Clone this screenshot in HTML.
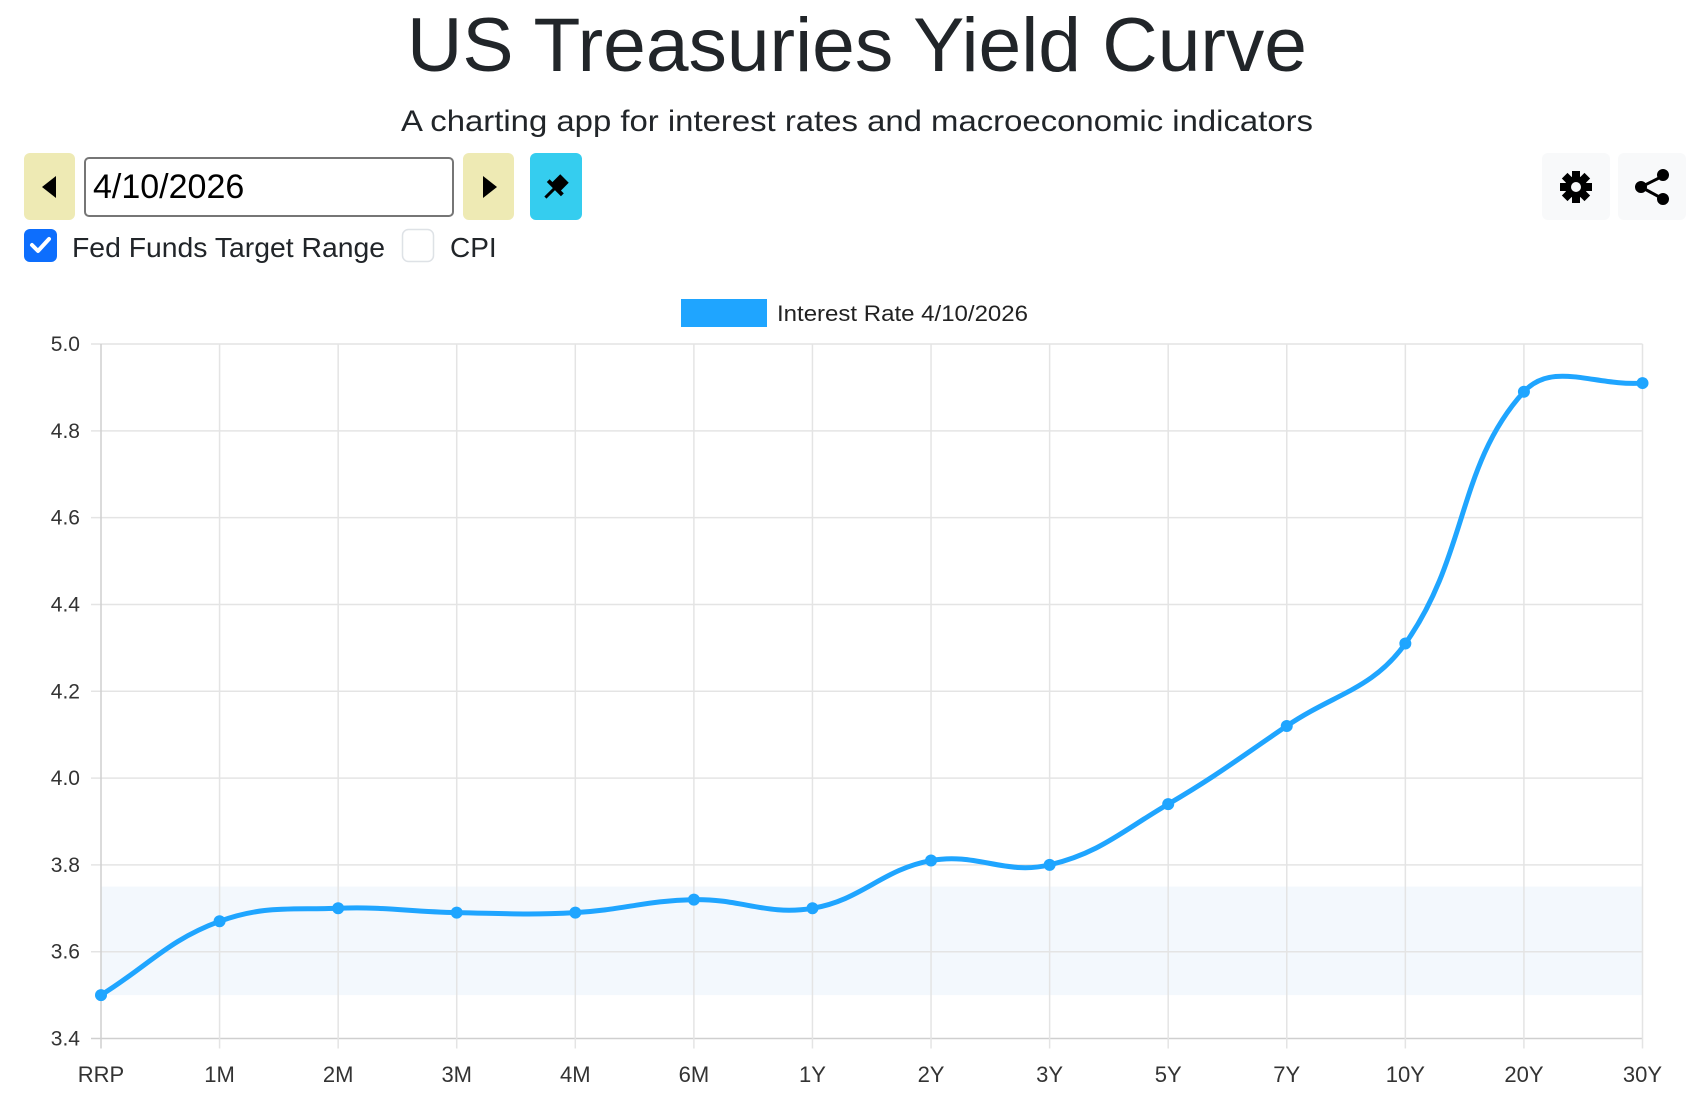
<!DOCTYPE html>
<html><head><meta charset="utf-8"><style>
html,body{margin:0;padding:0;background:#fff;}
svg{display:block;font-family:"Liberation Sans",Arial,sans-serif;}
</style></head><body>
<svg id="s" width="1702" height="1110" viewBox="0 0 1702 1110" xmlns="http://www.w3.org/2000/svg">
<text x="857" y="71" text-anchor="middle" font-size="76" font-weight="500" fill="#212529" textLength="900" lengthAdjust="spacingAndGlyphs">US Treasuries Yield Curve</text>
<text x="857" y="131" text-anchor="middle" font-size="30" fill="#212529" textLength="912" lengthAdjust="spacingAndGlyphs">A charting app for interest rates and macroeconomic indicators</text>
<rect x="24" y="153" width="51" height="67" rx="6" fill="#eeeab4"/>
<polygon points="56,176 56,198 42,187" fill="#000"/>
<rect x="85" y="158" width="368" height="58" rx="4" fill="#fff" stroke="#767676" stroke-width="2"/>
<text x="93" y="198" font-size="34" fill="#000">4/10/2026</text>
<rect x="463" y="153" width="51" height="67" rx="6" fill="#eeeab4"/>
<polygon points="483,176 483,198 497,187" fill="#000"/>
<rect x="530" y="153" width="52" height="67" rx="6" fill="#35cdef"/>
<g transform="translate(556,187) rotate(45)">
<rect x="-6" y="-12" width="12" height="12" fill="#000"/><rect x="-10" y="-1" width="20" height="4" fill="#000"/><rect x="-1.5" y="2" width="3" height="13" fill="#000"/></g>
<rect x="1542" y="153" width="68" height="67" rx="6" fill="#f8f9fa"/>
<g transform="translate(1576,187)" fill="#000">
<circle r="11"/><g><rect x="-4" y="-16" width="8" height="32"/><rect x="-16" y="-4" width="32" height="8"/><rect x="-4" y="-16" width="8" height="32" transform="rotate(45)"/><rect x="-4" y="-16" width="8" height="32" transform="rotate(-45)"/></g>
<circle r="5" fill="#f8f9fa"/></g>
<rect x="1618" y="153" width="68" height="67" rx="6" fill="#f8f9fa"/>
<g fill="#000" stroke="#000" stroke-width="3"><line x1="1641" y1="187" x2="1663" y2="176"/><line x1="1641" y1="187" x2="1663" y2="199"/><circle cx="1641" cy="187" r="4.5"/><circle cx="1663" cy="175" r="4.5"/><circle cx="1663" cy="199" r="4.5"/></g>
<rect x="24" y="229" width="33" height="33" rx="6" fill="#0d6efd"/>
<polyline points="32,245 38,251 49,239" fill="none" stroke="#fff" stroke-width="4" stroke-linecap="round" stroke-linejoin="round"/>
<text x="72" y="257" font-size="28" fill="#212529" textLength="313" lengthAdjust="spacingAndGlyphs">Fed Funds Target Range</text>
<rect x="402.5" y="229.5" width="31" height="32" rx="6" fill="#fff" stroke="#dee2e6" stroke-width="1.5"/>
<text x="450" y="257" font-size="28" fill="#212529">CPI</text>
<rect x="681" y="299" width="86" height="28" fill="#1fa5ff"/>
<text x="777" y="321" font-size="22" fill="#222" textLength="251" lengthAdjust="spacingAndGlyphs">Interest Rate 4/10/2026</text>
<g id="chart"></g>
</svg>
<script>
var xR=1642.5,x0=101,step=(xR-x0)/13,yTop=344,yBot=1038.5;
function Y(v){return yBot-(v-3.4)/1.6*(yBot-yTop);}
var labs=["RRP","1M","2M","3M","4M","6M","1Y","2Y","3Y","5Y","7Y","10Y","20Y","30Y"];
var vals=[3.50,3.67,3.70,3.69,3.69,3.72,3.70,3.81,3.80,3.94,4.12,4.31,4.89,4.91];
var h='';
h+='<rect x="'+x0+'" y="'+Y(3.75)+'" width="'+(xR-x0)+'" height="'+(Y(3.5)-Y(3.75))+'" fill="#f3f8fd"/>';
for(var i=0;i<=8;i++){var v=3.4+i*0.2,y=Y(v);h+='<line x1="'+(x0-10)+'" x2="'+xR+'" y1="'+y+'" y2="'+y+'" stroke="'+(i==0?'#cfcfcf':'#e4e4e4')+'" stroke-width="1.5"/>';
h+='<text x="80" y="'+(y+7)+'" text-anchor="end" font-size="21" fill="#333">'+v.toFixed(1)+'</text>';}
for(var i=0;i<14;i++){var x=x0+i*step;h+='<line x1="'+x+'" x2="'+x+'" y1="'+yTop+'" y2="'+(yBot+10)+'" stroke="'+(i==0?'#cfcfcf':'#e4e4e4')+'" stroke-width="1.5"/>';
h+='<text x="'+x+'" y="1082" text-anchor="middle" font-size="22" fill="#333">'+labs[i]+'</text>';}
var P=vals.map(function(v,i){return {x:x0+i*step,y:Y(v)};});
var t=0.4,cps=[];
for(var i=0;i<P.length;i++){var p=P[i-1]||P[i],c=P[i],n=P[i+1]||P[i];
var d01=Math.hypot(c.x-p.x,c.y-p.y),d12=Math.hypot(n.x-c.x,n.y-c.y);
var s01=d01/(d01+d12)||0,s12=d12/(d01+d12)||0;var fa=t*s01,fb=t*s12;
cps.push({px:c.x-fa*(n.x-p.x),py:c.y-fa*(n.y-p.y),nx:c.x+fb*(n.x-p.x),ny:c.y+fb*(n.y-p.y)});}
var d='M'+P[0].x+' '+P[0].y;
for(var i=1;i<P.length;i++){d+=' C'+cps[i-1].nx+' '+cps[i-1].ny+' '+cps[i].px+' '+cps[i].py+' '+P[i].x+' '+P[i].y;}
h+='<path d="'+d+'" fill="none" stroke="#1fa5ff" stroke-width="5"/>';
P.forEach(function(p){h+='<circle cx="'+p.x+'" cy="'+p.y+'" r="6" fill="#1fa5ff"/>';});
document.getElementById('chart').innerHTML=h;
</script>
</body></html>
